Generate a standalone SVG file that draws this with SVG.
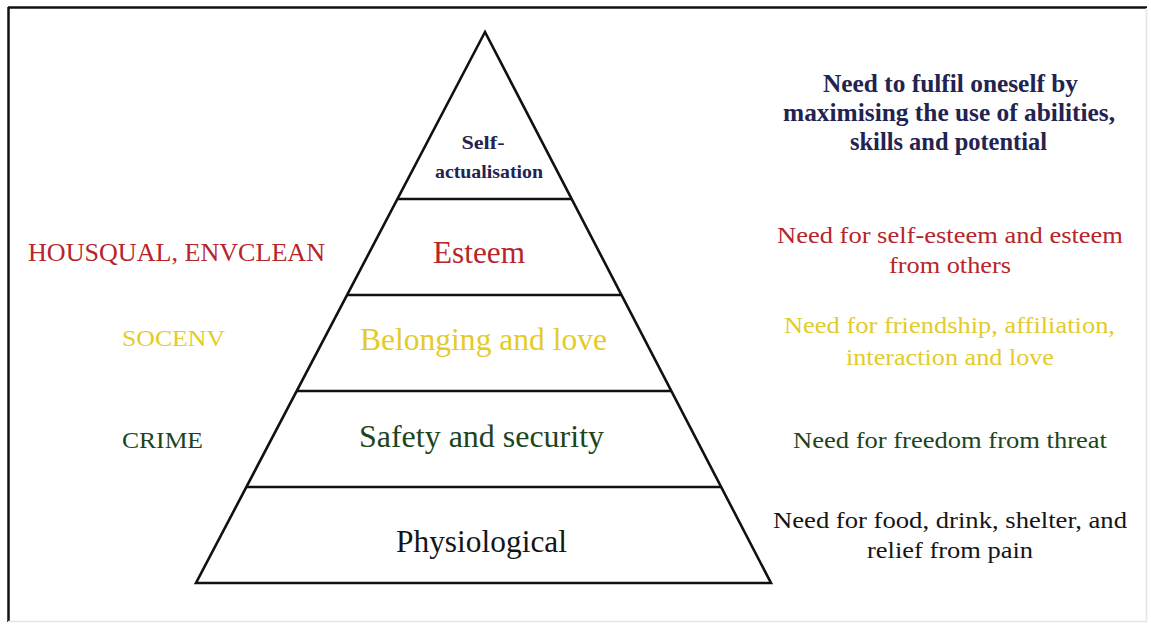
<svg xmlns="http://www.w3.org/2000/svg" width="1151" height="625" viewBox="0 0 1151 625">
  <style>
    text { font-family: "Liberation Serif", "Times New Roman", serif; text-anchor: middle; }
    .tier { fill: none; stroke: #111; stroke-width: 2.6; stroke-linejoin: miter; }
    .div { stroke: #111; stroke-width: 2.6; }
    .lvl { font-size: 31px; }
    .side { font-size: 24px; }
    .navy { fill: #23234f; font-weight: bold; }
    .red { fill: #b7252b; }
    .yellow { fill: #e3cb2a; }
    .green { fill: #1d451d; }
    .black { fill: #151515; }
  </style>

  <rect x="0" y="0" width="1151" height="625" fill="#ffffff"/>

  <!-- frame: dark top/left edges, faint right/bottom edges -->
  <g id="frame">
    <line x1="8" y1="7.5" x2="1147" y2="7.5" stroke="#111" stroke-width="2.5"/>
    <line x1="8.5" y1="7" x2="8.5" y2="622" stroke="#111" stroke-width="2.5"/>
    <line x1="1146.5" y1="8" x2="1146.5" y2="622" stroke="#e4e4e4" stroke-width="1.5"/>
    <line x1="8" y1="621.5" x2="1147" y2="621.5" stroke="#e4e4e4" stroke-width="1.5"/>
  </g>

  <!-- pyramid outline and tier dividers -->
  <g id="connectors">
    <path class="tier" d="M485 32 L196 583 L771 583 Z"/>
    <line class="div" x1="397.5" y1="199" x2="571.5" y2="199"/>
    <line class="div" x1="347" y1="295" x2="621.5" y2="295"/>
    <line class="div" x1="296.5" y1="391" x2="671.5" y2="391"/>
    <line class="div" x1="246" y1="487" x2="721" y2="487"/>
  </g>

  <g id="level-self-actualisation">
    <text class="navy" x="483" y="149" font-size="19" textLength="43" lengthAdjust="spacingAndGlyphs">Self-</text>
    <text class="navy" x="489" y="178" font-size="19" textLength="108" lengthAdjust="spacingAndGlyphs">actualisation</text>
  </g>

  <g id="level-esteem">
    <text class="lvl red" x="479" y="263" textLength="92" lengthAdjust="spacingAndGlyphs">Esteem</text>
  </g>

  <g id="level-belonging">
    <text class="lvl yellow" x="483.5" y="350" textLength="247" lengthAdjust="spacingAndGlyphs">Belonging and love</text>
  </g>

  <g id="level-safety">
    <text class="lvl green" x="481.5" y="447" textLength="245" lengthAdjust="spacingAndGlyphs">Safety and security</text>
  </g>

  <g id="level-physiological">
    <text class="lvl black" x="481.5" y="552" textLength="171" lengthAdjust="spacingAndGlyphs">Physiological</text>
  </g>

  <!-- variables mapped to levels -->
  <g id="var-esteem">
    <text class="red" x="176.5" y="261" font-size="26" textLength="297" lengthAdjust="spacingAndGlyphs">HOUSQUAL, ENVCLEAN</text>
  </g>
  <g id="var-belonging">
    <text class="yellow" x="173.5" y="346" font-size="24" textLength="103" lengthAdjust="spacingAndGlyphs">SOCENV</text>
  </g>
  <g id="var-safety">
    <text class="green" x="162.5" y="448" font-size="24" textLength="81" lengthAdjust="spacingAndGlyphs">CRIME</text>
  </g>

  <!-- need descriptions -->
  <g id="desc-self-actualisation">
    <text class="navy" x="950.5" y="92" font-size="25" textLength="255" lengthAdjust="spacingAndGlyphs">Need to fulfil oneself by</text>
    <text class="navy" x="949" y="121" font-size="25" textLength="332" lengthAdjust="spacingAndGlyphs">maximising the use of abilities,</text>
    <text class="navy" x="948.5" y="150" font-size="25" textLength="197" lengthAdjust="spacingAndGlyphs">skills and potential</text>
  </g>
  <g id="desc-esteem">
    <text class="side red" x="950" y="243" textLength="346" lengthAdjust="spacingAndGlyphs">Need for self-esteem and esteem</text>
    <text class="side red" x="950" y="273" textLength="122" lengthAdjust="spacingAndGlyphs">from others</text>
  </g>
  <g id="desc-belonging">
    <text class="side yellow" x="949.5" y="333" textLength="331" lengthAdjust="spacingAndGlyphs">Need for friendship, affiliation,</text>
    <text class="side yellow" x="950" y="365" textLength="208" lengthAdjust="spacingAndGlyphs">interaction and love</text>
  </g>
  <g id="desc-safety">
    <text class="side green" x="950" y="448" textLength="314" lengthAdjust="spacingAndGlyphs">Need for freedom from threat</text>
  </g>
  <g id="desc-physiological">
    <text class="side black" x="950" y="528" textLength="354" lengthAdjust="spacingAndGlyphs">Need for food, drink, shelter, and</text>
    <text class="side black" x="950" y="558" textLength="166" lengthAdjust="spacingAndGlyphs">relief from pain</text>
  </g>
</svg>
